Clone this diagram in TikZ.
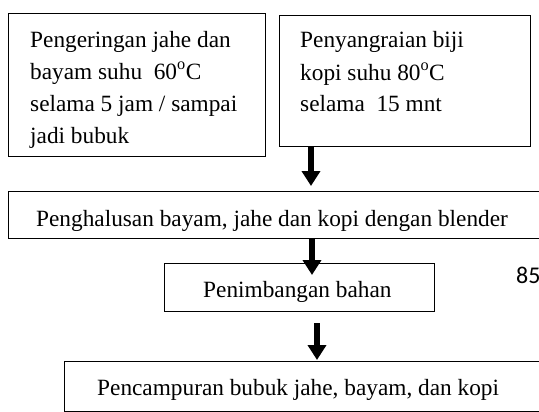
\documentclass[tikz,border=0pt]{standalone}
\usepackage{fontspec}
\setmainfont{Liberation Serif}
\newfontfamily\pgnumfont{Carlito}
\usetikzlibrary{arrows.meta,calc}
\tikzset{
  box/.style={draw, line width=1.4pt, rectangle, inner sep=0pt, anchor=north west},
  txt/.style={inner sep=0pt, align=left, anchor=base west, font=\fontsize{23.3}{32}\selectfont},
  arr/.style={line width=6pt, -{Triangle[width=18pt,length=15pt]}}
}
\begin{document}
\begin{tikzpicture}[x=1pt,y=-1pt]
\useasboundingbox (0,0) rectangle (539,412);
% boxes
\node[box, minimum width=257pt, minimum height=143pt] (b1) at (8,13) {};
\node[box, minimum width=251pt, minimum height=131pt] (b2) at (279,15) {};
\node[box, minimum width=545pt, minimum height=47pt] (b3) at (8,191) {};
\node[box, minimum width=270pt, minimum height=48pt] (b4) at (164,263) {};
\node[box, minimum width=490pt, minimum height=50pt] (b5) at (64,361) {};
% texts (base anchor = baseline of the last line)
\node[txt] (t1) at (30,143) {Pengeringan jahe dan\\bayam suhu \ 60\textsuperscript{o}C\\selama 5 jam / sampai\\jadi bubuk};
\node[txt] (t2) at (300,112) {Penyangraian biji\\kopi suhu 80\textsuperscript{o}C\\selama \ 15 mnt};
\node[txt] (t3) at (36,226) {Penghalusan bayam, jahe dan kopi dengan blender};
\node[txt] (t4) at (203,297) {Penimbangan bahan};
\node[txt] (t5) at (97,395) {Pencampuran bubuk jahe, bayam, dan kopi};
\node[inner sep=0pt, anchor=base west, font=\pgnumfont\fontsize{24}{24}\selectfont] (pg) at (516,283) {85};
% arrows
\draw[arr, shorten >=5pt] ([xshift=32pt]b2.south west) -- ([xshift=32pt]b2.south west |- b3.north);
\draw[arr, shorten >=-12pt] ([xshift=304pt]b3.south west) -- ([xshift=304pt]b3.south west |- b4.north);
\draw[arr, shorten <=11pt, shorten >=1pt] ([xshift=153pt]b4.south west) -- ([xshift=153pt]b4.south west |- b5.north);
\end{tikzpicture}
\end{document}
